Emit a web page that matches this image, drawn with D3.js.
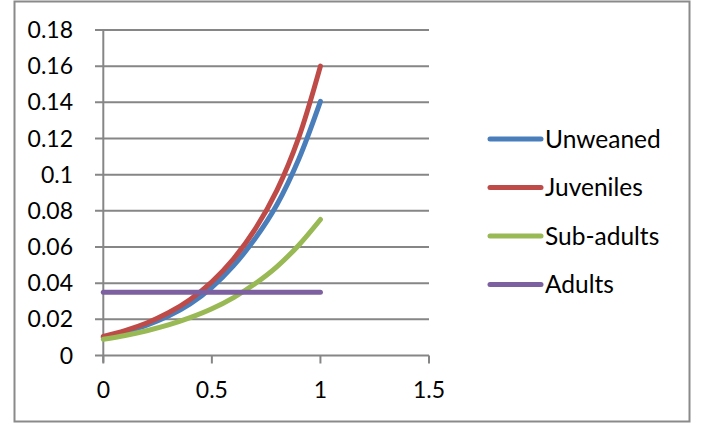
<!DOCTYPE html>
<html>
<head>
<meta charset="utf-8">
<script src="https://cdn.jsdelivr.net/npm/d3@7"></script>
<style>
  html, body { margin: 0; padding: 0; background: #fff; }
  svg { display: block; }
  text { font-family: Lato, "Open Sans", sans-serif; fill: #000; }
</style>
</head>
<body>
<svg id="chart" width="704" height="424"></svg>
<script>
// Time steps on the x axis
const xValues = [0, 0.1, 0.2, 0.3, 0.4, 0.5, 0.6, 0.7, 0.8, 0.9, 1.0];

// Series values per stage class
const unweaned  = [0.0100, 0.0130, 0.0168, 0.0218, 0.0285, 0.0377, 0.0497, 0.0648, 0.0835, 0.1085, 0.1405];
const juveniles = [0.0106, 0.0138, 0.0180, 0.0236, 0.0310, 0.0408, 0.0535, 0.0700, 0.0915, 0.1205, 0.1600];
const subAdults = [0.0090, 0.0111, 0.0137, 0.0169, 0.0209, 0.0258, 0.0320, 0.0398, 0.0492, 0.0610, 0.0752];
const adults    = [0.0350, 0.0350, 0.0350, 0.0350, 0.0350, 0.0350, 0.0350, 0.0350, 0.0350, 0.0350, 0.0350];

const seriesNames  = ["Unweaned", "Juveniles", "Sub-adults", "Adults"];
const seriesColors = ["#4a7ebb", "#be4b48", "#98b954", "#7d60a0"];
const seriesValues = [unweaned, juveniles, subAdults, adults];

// Axis ticks
const xTicks = [0, 0.5, 1, 1.5];
const yTicks = [0, 0.02, 0.04, 0.06, 0.08, 0.1, 0.12, 0.14, 0.16, 0.18];

const svg = d3.select("#chart");
const gridColor = "#868686";

// Outer frame
svg.append("rect")
  .attr("x", 14.5).attr("y", 1.5)
  .attr("width", 675).attr("height", 420)
  .attr("fill", "#fff")
  .attr("stroke", "#8a8a8a")
  .attr("stroke-width", 2);

const x = d3.scaleLinear().domain([0, 1.5]).range([103.3, 429]);
const y = d3.scaleLinear().domain([0, 0.18]).range([355.5, 30]);

// Horizontal gridlines with left tick stubs
svg.append("g")
  .selectAll("line")
  .data(yTicks)
  .join("line")
  .attr("x1", 95).attr("x2", x(1.5))
  .attr("y1", d => y(d)).attr("y2", d => y(d))
  .attr("stroke", gridColor)
  .attr("stroke-width", 2);

// Y axis line
svg.append("line")
  .attr("x1", x(0)).attr("x2", x(0))
  .attr("y1", y(0.18)).attr("y2", y(0) + 7)
  .attr("stroke", gridColor).attr("stroke-width", 2);

// X axis tick marks
svg.append("g")
  .selectAll("line")
  .data(xTicks)
  .join("line")
  .attr("x1", d => x(d)).attr("x2", d => x(d))
  .attr("y1", y(0)).attr("y2", y(0) + 8)
  .attr("stroke", gridColor).attr("stroke-width", 2);

// Y tick labels
svg.append("g")
  .selectAll("text")
  .data(yTicks)
  .join("text")
  .attr("x", 73)
  .attr("y", d => y(d) + 8)
  .attr("text-anchor", "end")
  .attr("font-size", 23)
  .text(d => String(+d.toFixed(2)));

// X tick labels
svg.append("g")
  .selectAll("text")
  .data(xTicks)
  .join("text")
  .attr("x", d => x(d))
  .attr("y", 398)
  .attr("text-anchor", "middle")
  .attr("font-size", 23)
  .text(d => String(d));

// Series lines
const line = d3.line()
  .x((d, i) => x(xValues[i]))
  .y(d => y(d))
  .curve(d3.curveCatmullRom.alpha(0.5));

svg.append("g")
  .selectAll("path")
  .data(seriesValues)
  .join("path")
  .attr("d", d => line(d))
  .attr("fill", "none")
  .attr("stroke", (d, i) => seriesColors[i])
  .attr("stroke-width", 5)
  .attr("stroke-linecap", "round")
  .attr("stroke-linejoin", "round");

// Legend
const legend = svg.append("g")
  .selectAll("g")
  .data(seriesNames)
  .join("g")
  .attr("transform", (d, i) => `translate(0, ${139 + i * 48.5})`);

legend.append("line")
  .attr("x1", 490).attr("x2", 541)
  .attr("y1", 0).attr("y2", 0)
  .attr("stroke", (d, i) => seriesColors[i])
  .attr("stroke-width", 5)
  .attr("stroke-linecap", "round");

legend.append("text")
  .attr("x", 545)
  .attr("y", 8.5)
  .attr("font-size", 24.5)
  .text(d => d);
</script>
</body>
</html>
